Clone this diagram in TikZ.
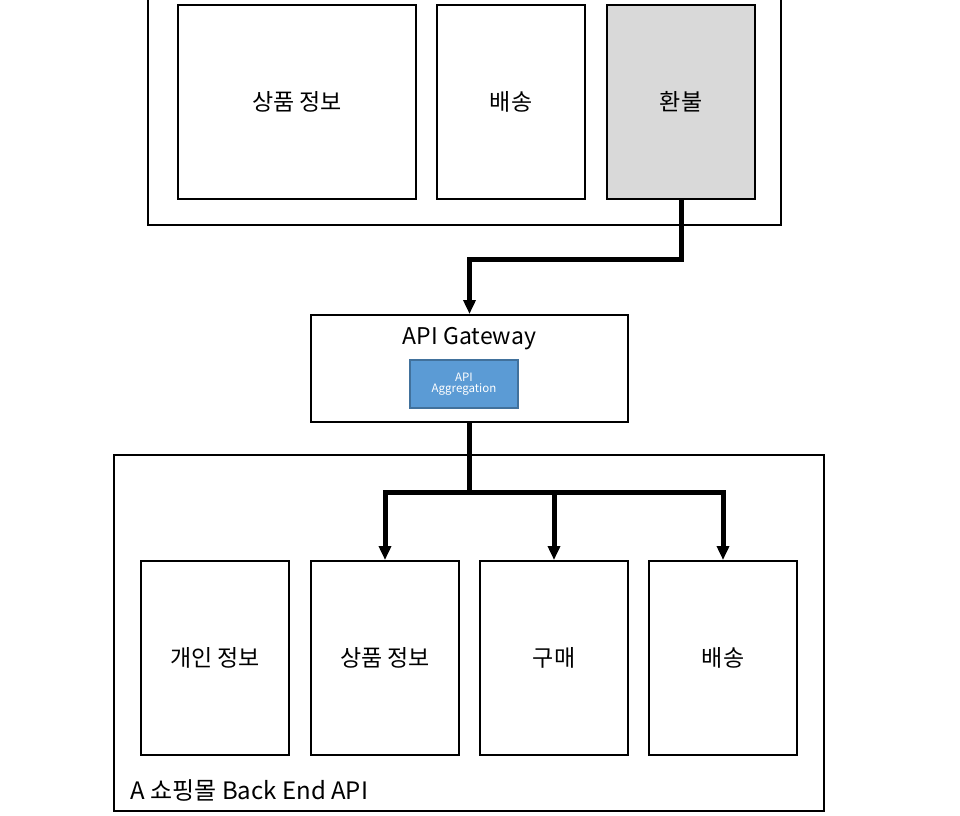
\documentclass[tikz,border=0pt]{standalone}
\usepackage{fontspec}
\setmainfont{Noto Sans CJK KR}
\usepackage{tikz}
\usetikzlibrary{positioning,arrows.meta,calc}
\definecolor{aggfill}{HTML}{5B9BD5}
\definecolor{aggline}{HTML}{41719C}

\begin{document}
\begin{tikzpicture}[
    x=1pt, y=-1pt,
    font=\fontsize{23}{27}\selectfont,
    >={Triangle[length=14pt,width=12pt]},
    frame/.style={draw, line width=2pt, inner sep=0pt},
    svc/.style={draw, line width=2pt, minimum width=148pt, minimum height=194pt, inner sep=0pt, fill=white},
    agg/.style={draw=aggline, line width=1.5pt, fill=aggfill, text=white, align=center,
      minimum width=108pt, minimum height=48pt, inner sep=0pt, font=\fontsize{11.5}{13}\selectfont},
    link/.style={line width=5pt},
  ]
    \useasboundingbox (0,0) rectangle (960,815);

    % front end (top)
    \node[frame, anchor=south west, minimum width=633pt, minimum height=250pt] (front) at (147,226) {};
    \node[svc, minimum width=238pt, anchor=north west] (fprod) at (177,4) {상품 정보};
    \node[svc, right=19pt of fprod] (fship) {배송};
    \node[svc, right=20pt of fship, fill=black!15] (refund) {환불};

    % gateway
    \node[frame, minimum width=317pt, minimum height=107pt, anchor=north west] (gw) at (310,314) {};
    \node[below=10pt of gw.north] (gwtitle) {API Gateway};
    \node[agg] (aggr) at (464,384) {API\\[-2pt]Aggregation};

    % back end (bottom)
    \node[frame, minimum width=710pt, minimum height=356pt, anchor=north west] (back) at (113,454) {};
    \node[svc, anchor=north west] (priv) at (140,560) {개인 정보};
    \node[svc, right=20pt of priv] (bprod) {상품 정보};
    \node[svc, right=19pt of bprod] (buy) {구매};
    \node[svc, right=19pt of buy] (bship) {배송};
    \node[anchor=base west, font=\fontsize{24}{28}\selectfont] (backlabel) at (127,799) {A 쇼핑몰 Back End API};

    \draw[link, ->] (refund.south) -- ++(0,59) -| (gw.north);
    \draw[link] (gw.south) -- ++(0,69) coordinate (split);
    \draw[link, ->] (split) -| (bprod.north);
    \draw[link, ->] (split) -| (buy.north);
    \draw[link, ->] (split) -| (bship.north);
\end{tikzpicture}
\end{document}
